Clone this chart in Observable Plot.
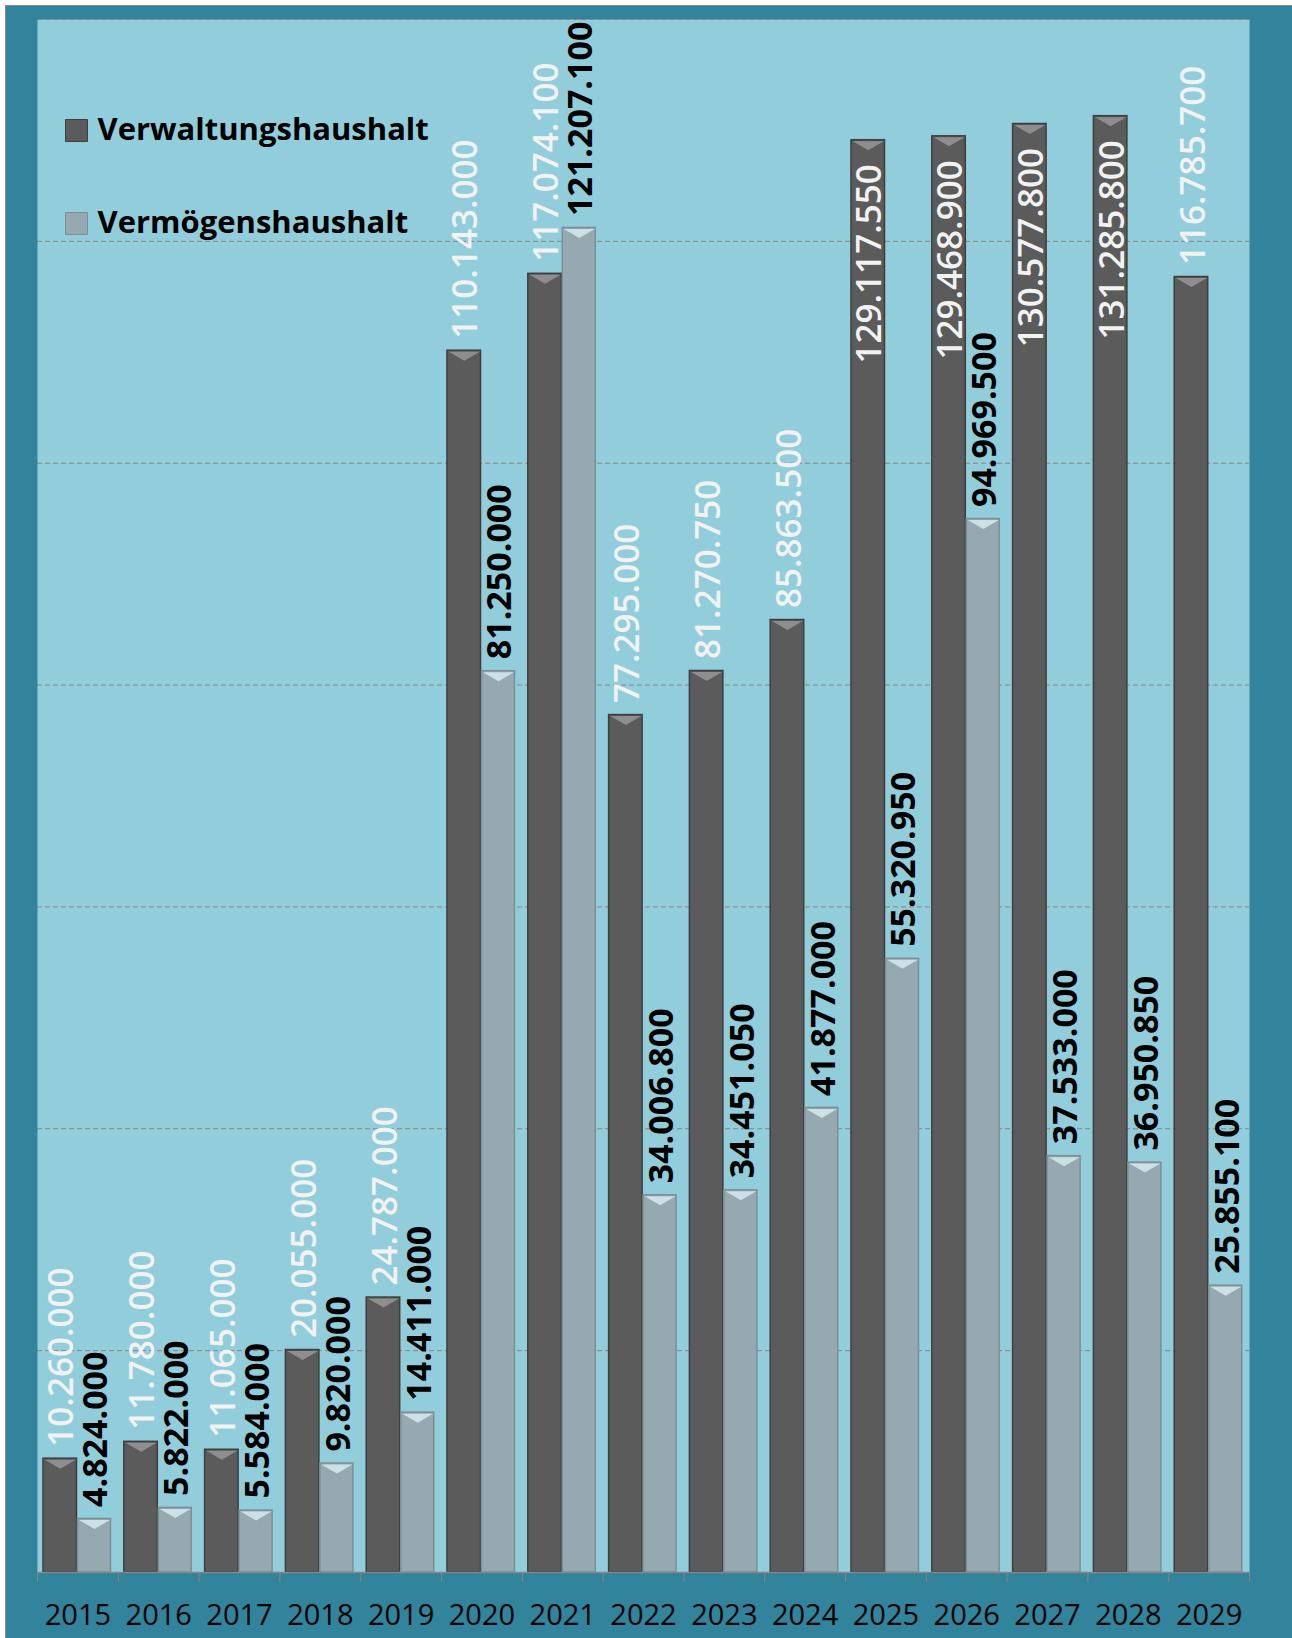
<!DOCTYPE html>
<html>
<head>
<meta charset="utf-8">
<script src="https://cdn.jsdelivr.net/npm/d3@7"></script>
<script src="https://cdn.jsdelivr.net/npm/@observablehq/plot@0.6"></script>
<style>
  html, body { margin: 0; padding: 0; background: #ffffff; overflow: hidden; }
  #box { position: absolute; left: 5px; top: 5px; width: 1286px; height: 1632px;
         background: #31849B; border-left: 1px solid #8a8a8a; border-top: 1px solid #8a8a8a; }
  #chart { position: absolute; left: 0; top: 0; }
</style>
</head>
<body>
<div id="box"></div>
<div id="chart"></div>
<script>
// ---- data ----
const years = ["2015","2016","2017","2018","2019","2020","2021","2022","2023","2024","2025","2026","2027","2028","2029"];
const seriesNames = ["Verwaltungshaushalt", "Vermögenshaushalt"];
const verwaltung = [10260000, 11780000, 11065000, 20055000, 24787000, 110143000, 117074100, 77295000, 81270750, 85863500, 129117550, 129468900, 130577800, 131285800, 116785700];
const vermoegen = [4824000, 5822000, 5584000, 9820000, 14411000, 81250000, 121207100, 34006800, 34451050, 41877000, 55320950, 94969500, 37533000, 36950850, 25855100];
const yTicks = [20000000, 40000000, 60000000, 80000000, 100000000, 120000000, 140000000];

const data = years.map((year, i) => ({year, verw: verwaltung[i], verm: vermoegen[i]}));

// ---- layout / style ----
const W = 1292, H = 1638, ml = 37, mr = 43, mt = 19, mb = 66;
const bw = (W - ml - mr) / years.length;
const insideLimit = 125000000; // labels of taller bars do not fit above them
const fmt = d3.formatLocale({decimal: ",", thousands: ".", grouping: [3], currency: ["", " €"]}).format(",d");

const darkFill = "#5B5B5B", darkStroke = "#3E3E3E", darkBevel = "#8E8E8E";
const lightFill = "#97A9B0", lightStroke = "#7C8F96", lightBevel = "#CBE1E6";

// bar geometry inside each year band
const vL = 6, vR = bw - 39.5;      // Verwaltung bar
const mL = 40.5, mR = bw - 73.5;   // Vermögen bar
const vC = (vL + (bw - vR)) / 2 - bw / 2;
const mC = (mL + (bw - mR)) / 2 - bw / 2;

const bevel = {draw(ctx) { ctx.moveTo(-15.5, 0); ctx.lineTo(15.5, 0); ctx.lineTo(0, 9); ctx.closePath(); }};
const square = {draw(ctx) { ctx.rect(-11, -11, 22, 22); }};

const chart = Plot.plot({
  width: W, height: H,
  marginLeft: ml, marginRight: mr, marginTop: mt, marginBottom: mb,
  style: {background: "transparent", fontFamily: "'Open Sans', 'DejaVu Sans', sans-serif"},
  x: {type: "band", domain: years, padding: 0, round: false, label: null},
  y: {domain: [0, 140000000], axis: null},
  marks: [
    Plot.frame({fill: "#92CDDC", stroke: null}),
    Plot.ruleY(yTicks, {stroke: "#8C8282", strokeDasharray: "5,3", strokeWidth: 1}),
    // bars
    Plot.barY(data, {x: "year", y: "verw", fill: darkFill, stroke: darkStroke, strokeWidth: 1.5, insetLeft: vL, insetRight: vR}),
    Plot.barY(data, {x: "year", y: "verm", fill: lightFill, stroke: lightStroke, strokeWidth: 1.5, insetLeft: mL, insetRight: mR}),
    Plot.dot(data, {x: "year", y: "verw", symbol: bevel, fill: darkBevel, dx: vC, dy: 1}),
    Plot.dot(data, {x: "year", y: "verm", symbol: bevel, fill: lightBevel, dx: mC, dy: 1}),
    // axis line and ticks at band boundaries
    Plot.ruleY([0], {stroke: "#868686", strokeWidth: 1.5}),
    Plot.axisX({tickSize: 10, tickFormat: () => "", label: null, stroke: "#868686", dx: -bw / 2}),
    Plot.axisX({ticks: [years[years.length - 1]], tickSize: 10, tickFormat: () => "", label: null, stroke: "#868686", dx: bw / 2}),
    Plot.text(years, {x: d => d, text: d => d, frameAnchor: "bottom", lineAnchor: "middle", dy: 43, fontSize: 29, fill: "#000000"}),
    // value labels
    Plot.text(data.filter(d => d.verw <= insideLimit), {x: "year", y: "verw", text: d => fmt(d.verw), rotate: -90,
      textAnchor: "start", dx: vC + 2, dy: -12, fill: "#F2F2F2", fontSize: 35, fontWeight: 600}),
    Plot.text(data.filter(d => d.verw > insideLimit), {x: "year", y: "verw", text: d => fmt(d.verw), rotate: -90,
      textAnchor: "end", dx: vC + 2, dy: 24, fill: "#F2F2F2", fontSize: 35, fontWeight: 600}),
    Plot.text(data, {x: "year", y: "verm", text: d => fmt(d.verm), rotate: -90,
      textAnchor: "start", dx: mC + 2, dy: -12, fill: "#000000", fontSize: 34, fontWeight: 700}),
    // legend
    Plot.dot([seriesNames[0]], {frameAnchor: "top-left", dx: 39, dy: 111, symbol: square, fill: darkFill, stroke: darkStroke, strokeWidth: 1}),
    Plot.dot([seriesNames[1]], {frameAnchor: "top-left", dx: 39, dy: 204, symbol: square, fill: lightFill, stroke: lightStroke, strokeWidth: 1}),
    Plot.text([seriesNames[0]], {frameAnchor: "top-left", lineAnchor: "middle", text: d => d, textAnchor: "start", dx: 60, dy: 111, fontSize: 31, fontWeight: 700, fill: "#000000"}),
    Plot.text([seriesNames[1]], {frameAnchor: "top-left", lineAnchor: "middle", text: d => d, textAnchor: "start", dx: 60, dy: 204, fontSize: 31, fontWeight: 700, fill: "#000000"})
  ]
});
document.getElementById("chart").appendChild(chart);
</script>
</body>
</html>
